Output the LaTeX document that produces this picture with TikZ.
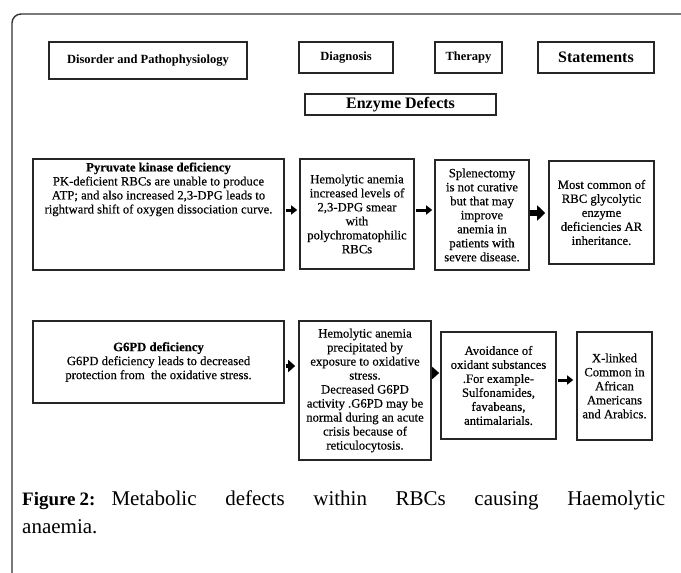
\documentclass[tikz,border=0pt]{standalone}
\usepackage{fontspec}
\setmainfont{Liberation Serif}
\newfontfamily\boxfont[FakeBold=0.4]{Liberation Serif}
\usetikzlibrary{arrows.meta}
\begin{document}
\begin{tikzpicture}[x=1pt,y=-1pt,
  box/.style={draw=black!85,line width=1.6pt,inner sep=0pt,align=center,
    font=\boxfont\fontsize{12.7}{14}\selectfont},
  hbox/.style={draw=black!85,line width=1.6pt,inner sep=0pt,align=center},
  arrs/.style={line width=3pt,-{Triangle[length=6pt,width=9pt]}},
  arrm/.style={line width=4pt,-{Triangle[length=7pt,width=12pt]}},
  arrb/.style={line width=5.5pt,-{Triangle[length=8pt,width=15pt]}}]
\useasboundingbox (0,0) rectangle (681,573);
\fill[white] (0,0) rectangle (681,573);
% outer frame
\draw[line width=1.4pt,black!80,rounded corners=9pt] (12,580) -- (12,14) -- (690,14);
% headers
\node[hbox,minimum width=198pt,minimum height=37pt,font=\bfseries\fontsize{12.5}{14}\selectfont] (dis) at (148,60.5) {Disorder and Pathophysiology};
\node[hbox,minimum width=94pt,minimum height=31pt,font=\bfseries\fontsize{12.5}{14}\selectfont] (diag) at (346,57.5) {Diagnosis};
\node[hbox,minimum width=67pt,minimum height=31pt,font=\bfseries\fontsize{12.5}{14}\selectfont] (ther) at (468.5,57.5) {Therapy};
\node[hbox,minimum width=116pt,minimum height=31pt,font=\bfseries\fontsize{16}{18}\selectfont] (stat) at (596,57.5) {Statements};
\node[hbox,minimum width=191pt,minimum height=21pt,font=\bfseries\fontsize{16}{18}\selectfont] (enz) at (400.5,104.5) {Enzyme Defects};
% row 1
\node[box,minimum width=251pt,minimum height=111pt] (pk) at (158.5,214.5)
  {\parbox[c][104pt][t]{248pt}{\centering\boxfont\fontsize{12.7}{14}\selectfont
   \textbf{Pyruvate kinase deficiency}\\
   PK-deficient RBCs are unable to produce\\
   ATP; and also increased 2,3-DPG leads to\\
   rightward shift of oxygen dissociation curve.}};
\node[box,minimum width=114pt,minimum height=110pt] (hem1) at (357,214)
  {Hemolytic anemia\\increased levels of\\2,3-DPG smear\\with\\polychromatophilic\\RBCs};
\node[box,minimum width=94pt,minimum height=110pt] (spl) at (482,215)
  {Splenectomy\\is not curative\\but that may\\improve\\anemia in\\patients with\\severe disease.};
\node[box,minimum width=105pt,minimum height=103pt] (most) at (601.5,212.5)
  {Most common of\\RBC glycolytic\\enzyme\\deficiencies AR\\inheritance.};
% row 2
\node[box,minimum width=251pt,minimum height=82pt] (g6) at (158.5,362)
  {\textbf{G6PD deficiency}\\G6PD deficiency leads to decreased\\protection from\ \ the oxidative stress.};
\node[box,minimum width=132pt,minimum height=139pt] (hem2) at (365,390.5)
  {Hemolytic anemia\\precipitated by\\exposure to oxidative\\stress.\\Decreased G6PD\\activity .G6PD may be\\normal during an acute\\crisis because of\\reticulocytosis.};
\node[box,minimum width=115pt,minimum height=107pt] (avo) at (498.5,385.5)
  {Avoidance of\\oxidant substances\\.For example-\\Sulfonamides,\\favabeans,\\antimalarials.};
\node[box,minimum width=75pt,minimum height=108pt] (xl) at (614.5,386)
  {X-linked\\Common in\\African\\Americans\\and Arabics.};
% arrows
\draw[arrs] ([yshift=4.5pt,xshift=1pt]pk.east) -- ([yshift=4pt,xshift=-2pt]hem1.west);
\draw[arrs] ([yshift=4pt,xshift=1pt]hem1.east) -- ([yshift=5pt,xshift=-2pt]spl.west);
\draw[arrb] ([yshift=2pt]spl.east) -- ([yshift=-0.5pt,xshift=-3pt]most.west);
\draw[arrm] ([yshift=-4pt,xshift=1pt]g6.east) -- ([yshift=24.5pt,xshift=-3pt]hem2.west);
\draw[arrm] ([yshift=17.5pt]hem2.east) -- ([yshift=12.5pt,xshift=-1pt]avo.west);
\draw[arrs] ([yshift=5.5pt,xshift=1pt]avo.east) -- ([yshift=6pt,xshift=-3pt]xl.west);
% caption
\node[anchor=north west,inner sep=0pt,text width=643pt,align=justify,
  font=\fontsize{21}{28}\selectfont] (cap) at (22,491)
  {{\bfseries\fontsize{19}{28}\selectfont Figure\hspace{4pt}2:}\hspace{16pt}Metabolic defects within RBCs causing Haemolytic\linebreak anaemia.};
\end{tikzpicture}
\end{document}
